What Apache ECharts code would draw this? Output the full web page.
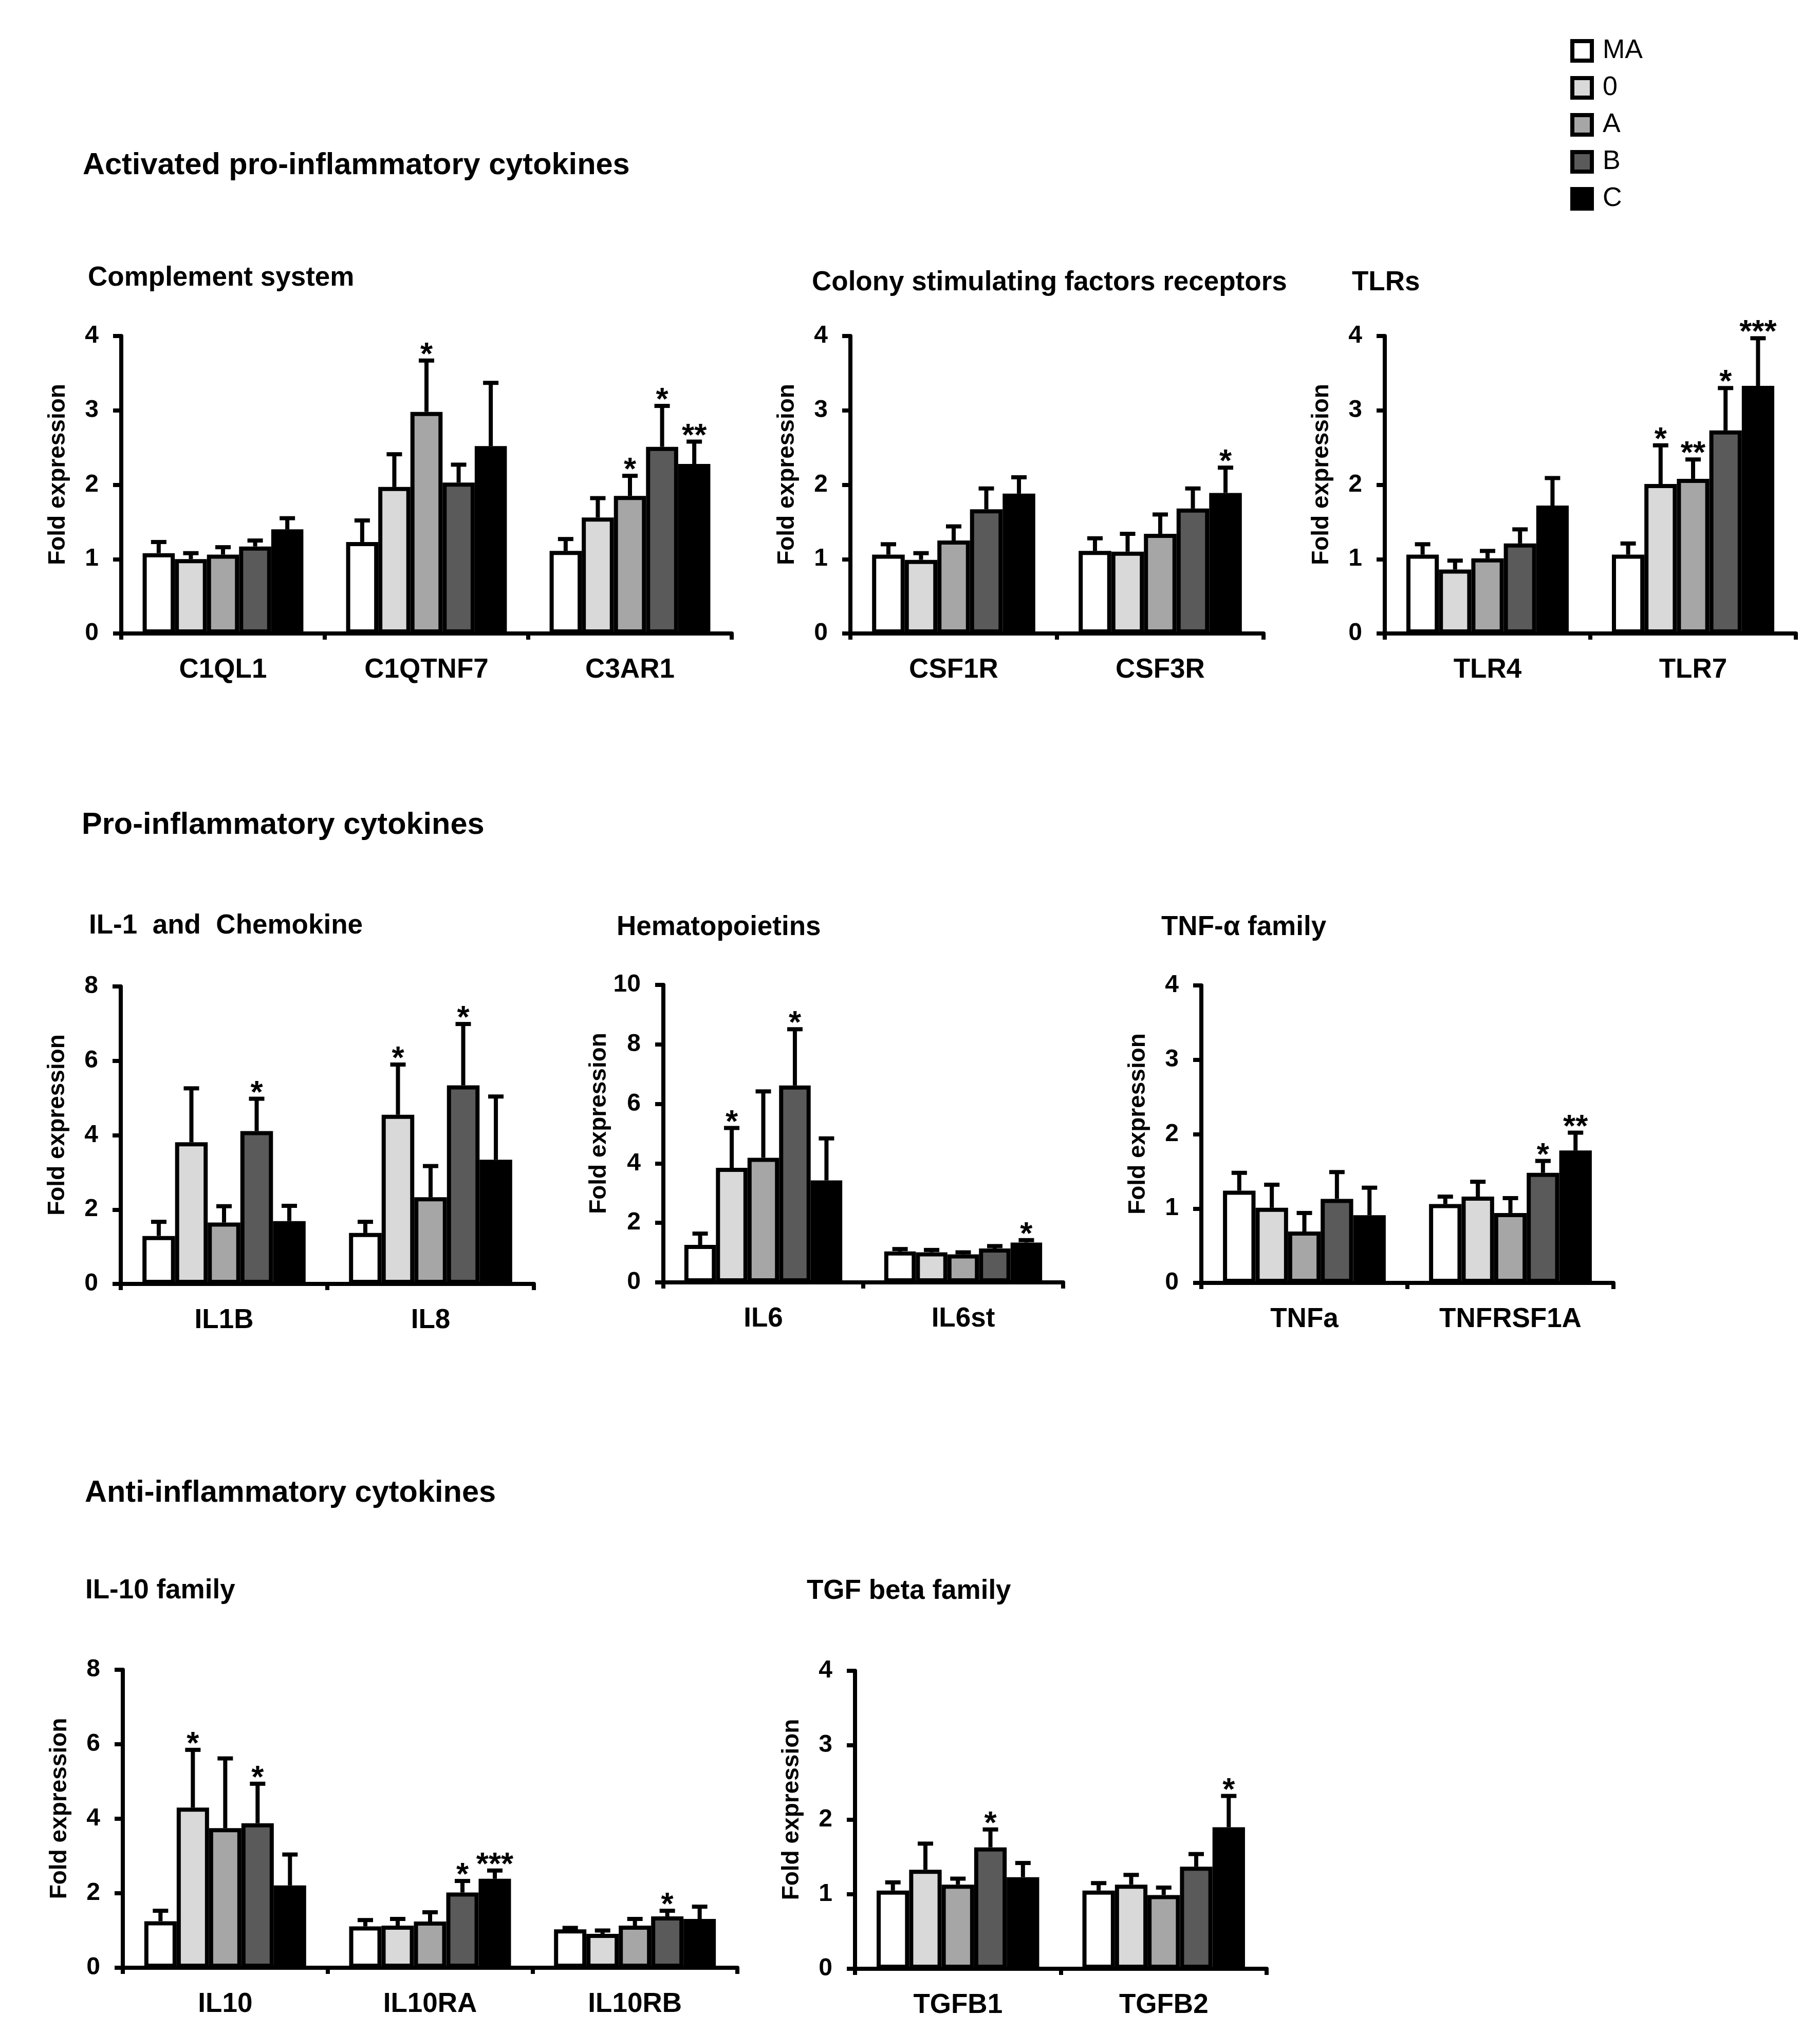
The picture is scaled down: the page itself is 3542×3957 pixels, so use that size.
<!DOCTYPE html>
<html><head><meta charset="utf-8">
<script src="https://cdn.jsdelivr.net/npm/echarts@6/dist/echarts.min.js"></script>
<style>html,body{margin:0;padding:0;background:#fff}#c{width:3542px;height:3957px}</style>
</head><body><div id="c"></div>
<script>
// ---------------- DATA ----------------
const groups = ['MA', '0', 'A', 'B', 'C'];

// Complement system
const complementCats = ['C1QL1', 'C1QTNF7', 'C3AR1'];
const complementMean = [[1.08, 1.23, 1.11], [1.00, 1.97, 1.56], [1.06, 2.98, 1.85], [1.17, 2.03, 2.51], [1.40, 2.52, 2.28]];
const complementSd   = [[0.15, 0.29, 0.16], [0.08, 0.44, 0.26], [0.10, 0.69, 0.27], [0.08, 0.24, 0.55], [0.15, 0.85, 0.30]];
const complementSig  = [['', '', ''], ['', '', ''], ['', '*', '*'], ['', '', '*'], ['', '', '**']];

// Colony stimulating factors receptors
const csfCats = ['CSF1R', 'CSF3R'];
const csfMean = [[1.06, 1.11], [0.99, 1.10], [1.25, 1.34], [1.67, 1.68], [1.88, 1.89]];
const csfSd   = [[0.14, 0.17], [0.09, 0.24], [0.19, 0.26], [0.28, 0.27], [0.22, 0.34]];
const csfSig  = [['', ''], ['', ''], ['', ''], ['', ''], ['', '*']];

// TLRs
const tlrCats = ['TLR4', 'TLR7'];
const tlrMean = [[1.06, 1.06], [0.86, 2.01], [1.01, 2.08], [1.21, 2.73], [1.72, 3.33]];
const tlrSd   = [[0.14, 0.15], [0.12, 0.52], [0.10, 0.26], [0.19, 0.57], [0.37, 0.64]];
const tlrSig  = [['', ''], ['', '*'], ['', '**'], ['', '*'], ['', '***']];

// IL-1 and Chemokine
const il1Cats = ['IL1B', 'IL8'];
const il1Mean = [[1.29, 1.37], [3.81, 4.55], [1.65, 2.33], [4.11, 5.34], [1.69, 3.34]];
const il1Sd   = [[0.38, 0.30], [1.45, 1.35], [0.44, 0.84], [0.87, 1.65], [0.41, 1.70]];
const il1Sig  = [['', ''], ['', '*'], ['', ''], ['*', '*'], ['', '']];

// Hematopoietins
const hemaCats = ['IL6', 'IL6st'];
const hemaMean = [[1.26, 1.04], [3.85, 1.01], [4.19, 0.94], [6.62, 1.14], [3.43, 1.34]];
const hemaSd   = [[0.38, 0.08], [1.34, 0.08], [2.23, 0.07], [1.89, 0.08], [1.41, 0.08]];
const hemaSig  = [['', ''], ['*', ''], ['', ''], ['*', ''], ['', '*']];

// TNF-alpha family
const tnfCats = ['TNFa', 'TNFRSF1A'];
const tnfMean = [[1.24, 1.06], [1.01, 1.16], [0.69, 0.94], [1.13, 1.48], [0.91, 1.78]];
const tnfSd   = [[0.24, 0.10], [0.31, 0.20], [0.25, 0.20], [0.36, 0.16], [0.37, 0.24]];
const tnfSig  = [['', ''], ['', ''], ['', ''], ['', '*'], ['', '**']];

// IL-10 family
const il10Cats = ['IL10', 'IL10RA', 'IL10RB'];
const il10Mean = [[1.25, 1.11, 1.03], [4.30, 1.13, 0.91], [3.75, 1.24, 1.13], [3.88, 2.02, 1.38], [2.21, 2.39, 1.31]];
const il10Sd   = [[0.28, 0.17, 0.04], [1.55, 0.18, 0.09], [1.87, 0.25, 0.18], [1.06, 0.31, 0.15], [0.83, 0.22, 0.33]];
const il10Sig  = [['', '', ''], ['*', '', ''], ['', '', ''], ['*', '*', '*'], ['', '***', '']];

// TGF beta family
const tgfCats = ['TGFB1', 'TGFB2'];
const tgfMean = [[1.05, 1.05], [1.33, 1.13], [1.13, 0.99], [1.63, 1.37], [1.23, 1.90]];
const tgfSd   = [[0.11, 0.10], [0.35, 0.13], [0.08, 0.10], [0.24, 0.17], [0.19, 0.42]];
const tgfSig  = [['', ''], ['', ''], ['', ''], ['*', ''], ['', '*']];

// ---------------- STYLE / LAYOUT ----------------
const FONT = '"Liberation Sans", Arial, Helvetica, sans-serif';
const groupColors = ['#ffffff', '#d9d9d9', '#a6a6a6', '#5a5a5a', '#000000'];
const CAT_GAP = 0.21;

const panels = [
  { title: 'Complement system', tx: 171, ty: 541, cats: complementCats, mean: complementMean, sd: complementSd, sig: complementSig, max: 4, step: 1, grid: { left: 236, top: 654, width: 1188, height: 579 } },
  { title: 'Colony stimulating factors receptors', tx: 1580, ty: 550, cats: csfCats, mean: csfMean, sd: csfSd, sig: csfSig, max: 4, step: 1, grid: { left: 1655, top: 654, width: 804, height: 579 } },
  { title: 'TLRs', tx: 2631, ty: 550, cats: tlrCats, mean: tlrMean, sd: tlrSd, sig: tlrSig, max: 4, step: 1, grid: { left: 2695, top: 654, width: 800, height: 579 } },
  { title: 'IL-1  and  Chemokine', tx: 173, ty: 1802, cats: il1Cats, mean: il1Mean, sd: il1Sd, sig: il1Sig, max: 8, step: 2, grid: { left: 235, top: 1920, width: 804, height: 579 } },
  { title: 'Hematopoietins', tx: 1200, ty: 1805, cats: hemaCats, mean: hemaMean, sd: hemaSd, sig: hemaSig, max: 10, step: 2, grid: { left: 1291, top: 1917, width: 778, height: 579 } },
  { title: 'TNF-\u03b1 family', tx: 2260, ty: 1805, cats: tnfCats, mean: tnfMean, sd: tnfSd, sig: tnfSig, max: 4, step: 1, grid: { left: 2338, top: 1918, width: 802, height: 579 } },
  { title: 'IL-10 family', tx: 166, ty: 3096, cats: il10Cats, mean: il10Mean, sd: il10Sd, sig: il10Sig, max: 8, step: 2, grid: { left: 239, top: 3250, width: 1196, height: 580 } },
  { title: 'TGF beta family', tx: 1570, ty: 3097, cats: tgfCats, mean: tgfMean, sd: tgfSd, sig: tgfSig, max: 4, step: 1, grid: { left: 1664, top: 3252, width: 801, height: 580 } }
];

const sections = [
  { text: 'Activated pro-inflammatory cytokines', x: 161, y: 322 },
  { text: 'Pro-inflammatory cytokines', x: 159, y: 1606 },
  { text: 'Anti-inflammatory cytokines', x: 165, y: 2906 }
];

// ---------------- BUILD OPTION ----------------
const SEC_FS = 59.5, SUB_FS = 53;
const titles = [];
sections.forEach(s => titles.push({
  text: s.text, left: s.x, top: s.y - SEC_FS / 2, padding: 0,
  textStyle: { fontFamily: FONT, fontWeight: 'bold', fontSize: SEC_FS, color: '#000' }
}));
panels.forEach(p => titles.push({
  text: p.title, left: p.tx, top: p.ty - SUB_FS / 2, padding: 0,
  textStyle: { fontFamily: FONT, fontWeight: 'bold', fontSize: SUB_FS, color: '#000' }
}));

const grids = [], xAxes = [], yAxes = [], series = [];
panels.forEach((p, pi) => {
  grids.push(Object.assign({ containLabel: false }, p.grid));
  xAxes.push({
    type: 'category', gridIndex: pi, data: p.cats,
    axisLine: { show: true, lineStyle: { color: '#000', width: 8 } },
    axisTick: { show: true, length: 12, interval: 0, lineStyle: { color: '#000', width: 8 } },
    axisLabel: { interval: 0, margin: 45, fontFamily: FONT, fontWeight: 'bold', fontSize: 53, color: '#000' },
    splitLine: { show: false }
  });
  yAxes.push({
    type: 'value', gridIndex: pi, min: 0, max: p.max, interval: p.step,
    name: 'Fold expression', nameLocation: 'middle', nameRotate: 90, nameGap: 100,
    nameTextStyle: { fontFamily: FONT, fontWeight: 'bold', fontSize: 46, color: '#000', padding: [0, 0, 0, 40] },
    axisLine: { show: true, lineStyle: { color: '#000', width: 8 } },
    axisTick: { show: true, length: 16, lineStyle: { color: '#000', width: 8 } },
    axisLabel: { margin: 44, fontFamily: FONT, fontWeight: 'bold', fontSize: 48, color: '#000' },
    splitLine: { show: false }
  });
  groups.forEach((g, gi) => {
    series.push({
      name: g, type: 'bar', xAxisIndex: pi, yAxisIndex: pi,
      data: p.mean[gi], barGap: '0%', barCategoryGap: (CAT_GAP * 100) + '%',
      itemStyle: { color: groupColors[gi], borderColor: '#000', borderWidth: 8 },
      silent: true, z: 2
    });
  });
  const items = [];
  p.cats.forEach((c, ci) => {
    groups.forEach((g, gi) => {
      items.push([ci, gi, p.mean[gi][ci], p.mean[gi][ci] + p.sd[gi][ci]]);
    });
  });
  series.push({
    type: 'custom', xAxisIndex: pi, yAxisIndex: pi, z: 5, silent: true,
    data: items, encode: { x: 0, y: 3 },
    renderItem: (params, api) => {
      const ci = api.value(0), gi = api.value(1), m = api.value(2), top = api.value(3);
      const base = api.coord([ci, m]);
      const tp = api.coord([ci, top]);
      const band = api.size([1, 0])[0];
      const bw = band * (1 - CAT_GAP) / 5;
      const x = base[0] + (gi - 2) * bw;
      const children = [
        { type: 'line', shape: { x1: x, y1: base[1], x2: x, y2: tp[1] }, style: { stroke: '#000', lineWidth: 8 } },
        { type: 'line', shape: { x1: x - 15, y1: tp[1], x2: x + 15, y2: tp[1] }, style: { stroke: '#000', lineWidth: 8 } }
      ];
      const s = p.sig[gi][ci];
      if (s) {
        children.push({ type: 'text', style: { text: s, x: x, y: tp[1] - 10, font: 'bold 62px ' + FONT, align: 'center', verticalAlign: 'middle', fill: '#000' } });
      }
      return { type: 'group', children };
    }
  });
});

const option = {
  animation: false,
  backgroundColor: '#ffffff',
  title: titles,
  legend: {
    data: groups, orient: 'vertical', left: 3056, top: 73, padding: 0,
    itemWidth: 38, itemHeight: 38, itemGap: 20, icon: 'rect', selectedMode: false,
    itemStyle: { borderColor: '#000', borderWidth: 8 },
    textStyle: { fontFamily: FONT, fontSize: 52, color: '#000', padding: [0, 0, 0, 16] }
  },
  grid: grids, xAxis: xAxes, yAxis: yAxes, series: series
};

const chart = echarts.init(document.getElementById('c'), null, { renderer: 'canvas' });
chart.setOption(option);
</script>
</body></html>
